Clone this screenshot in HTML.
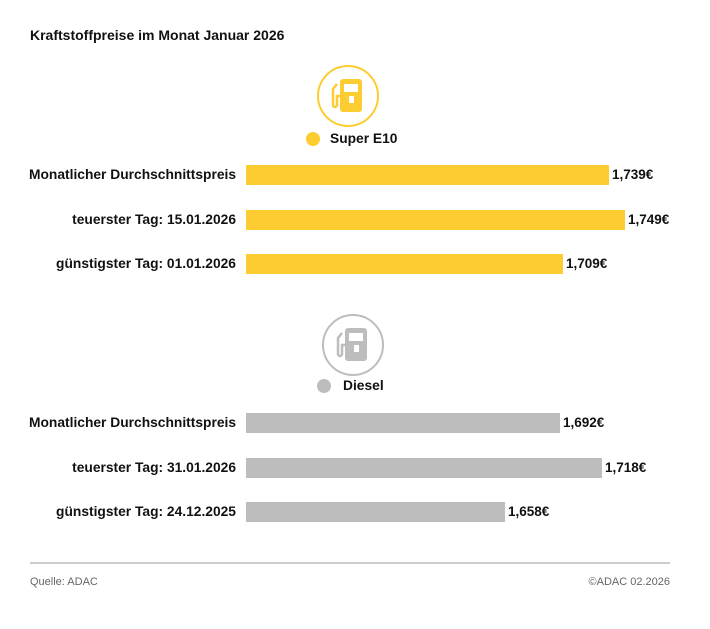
<!DOCTYPE html>
<html><head><style>
body{margin:0;width:710px;height:629px;background:#fff;position:relative;font-family:"Liberation Sans",sans-serif;overflow:hidden}
.t{position:absolute;font-weight:bold;font-size:13.8px;color:#111;white-space:nowrap}
.l{position:absolute;right:474px;font-weight:bold;font-size:13.8px;color:#111;white-space:nowrap;line-height:20px}
.b{position:absolute;left:246px;height:20px}
.v{position:absolute;font-weight:bold;font-size:13.5px;color:#111;line-height:20px}
.y{background:#fdcc30}.g{background:#bdbdbd}
</style></head><body>
<div class="t" style="left:30px;top:27px;font-size:14px">Kraftstoffpreise im Monat Januar 2026</div>
<svg style="position:absolute;left:0;top:0" width="710" height="629">
<circle cx="348" cy="96" r="30" fill="none" stroke="#fdcc30" stroke-width="2"/>
<rect x="340" y="79" width="22" height="33" rx="3" fill="#fdcc30"/><rect x="344" y="84" width="14" height="8" fill="#fff"/><rect x="349" y="96" width="5" height="7" fill="#fff"/>
<path d="M337 84 l-4 5 v16 a2 2 0 0 0 4 0 v-9 h3" fill="none" stroke="#fdcc30" stroke-width="2.5"/>
<circle cx="313" cy="139" r="7" fill="#fdcc30"/>
<circle cx="353" cy="345" r="30" fill="none" stroke="#bdbdbd" stroke-width="2"/>
<rect x="345" y="328" width="22" height="33" rx="3" fill="#bdbdbd"/><rect x="349" y="333" width="14" height="8" fill="#fff"/><rect x="354" y="345" width="5" height="7" fill="#fff"/>
<path d="M342 333 l-4 5 v16 a2 2 0 0 0 4 0 v-9 h3" fill="none" stroke="#bdbdbd" stroke-width="2.5"/>
<circle cx="324" cy="386" r="7" fill="#bdbdbd"/>
<line x1="30" y1="563" x2="670" y2="563" stroke="#999" stroke-width="1"/>
</svg>
<div class="t" style="left:330px;top:131px">Super E10</div>
<div class="t" style="left:343px;top:378px">Diesel</div>
<div class="l" style="top:165px">Monatlicher Durchschnittspreis</div>
<div class="b y" style="top:165px;width:363px"></div><div class="v" style="left:612px;top:165px">1,739€</div>
<div class="l" style="top:210px">teuerster Tag: 15.01.2026</div>
<div class="b y" style="top:210px;width:379px"></div><div class="v" style="left:628px;top:210px">1,749€</div>
<div class="l" style="top:254px">günstigster Tag: 01.01.2026</div>
<div class="b y" style="top:254px;width:317px"></div><div class="v" style="left:566px;top:254px">1,709€</div>
<div class="l" style="top:413px">Monatlicher Durchschnittspreis</div>
<div class="b g" style="top:413px;width:314px"></div><div class="v" style="left:563px;top:413px">1,692€</div>
<div class="l" style="top:458px">teuerster Tag: 31.01.2026</div>
<div class="b g" style="top:458px;width:356px"></div><div class="v" style="left:605px;top:458px">1,718€</div>
<div class="l" style="top:502px">günstigster Tag: 24.12.2025</div>
<div class="b g" style="top:502px;width:259px"></div><div class="v" style="left:508px;top:502px">1,658€</div>
<div style="position:absolute;left:30px;top:576px;font-size:11px;color:#666">Quelle: ADAC</div>
<div style="position:absolute;right:40px;top:576px;font-size:11px;color:#666">©ADAC 02.2026</div>
</body></html>
